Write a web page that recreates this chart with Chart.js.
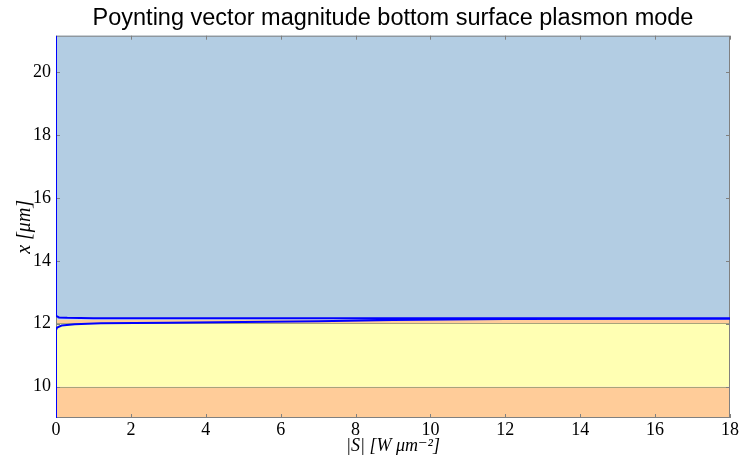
<!DOCTYPE html>
<html>
<head>
<meta charset="utf-8">
<script src="https://cdn.jsdelivr.net/npm/chart.js@4/dist/chart.umd.min.js"></script>
<style>
  html, body { margin: 0; padding: 0; background: #fff; }
  #wrap { width: 743px; height: 467px; }
</style>
</head>
<body>
<div id="wrap"><canvas id="poyntingChart"></canvas></div>
<script>
// |S| along the profile, lower branch out to the peak and back on the upper branch
const sValues = [0, 0, 0.03, 0.15, 0.5, 1.2, 3, 5, 7, 9, 12, 18, 40,
                 40, 18, 5, 1, 0.3, 0.08, 0.02, 0, 0];
const xPositions = [9.0, 11.8, 11.88, 11.94, 11.98, 12.01, 12.03, 12.05, 12.08, 12.12, 12.15, 12.16, 12.165,
                    12.17, 12.17, 12.172, 12.175, 12.185, 12.2, 12.24, 12.3, 21.16];

// material layers (bottom to top)
const layerBounds = [9.0, 10.0, 12.02, 12.13, 21.16];
const layerColors = ['#ffcc99', '#ffffb3', '#ffcc99', '#b3cde3'];

const xTicks = [0, 2, 4, 6, 8, 10, 12, 14, 16, 18];
const yTicks = [10, 12, 14, 16, 18, 20];

const serif = "'Liberation Serif', 'DejaVu Serif', serif";

const layerPlugin = {
  id: 'layers',
  beforeDatasetsDraw(chart) {
    const { ctx, chartArea: a, scales: { x, y } } = chart;
    ctx.save();
    for (let i = 0; i < layerColors.length; i++) {
      const top = y.getPixelForValue(layerBounds[i + 1]);
      const bot = y.getPixelForValue(layerBounds[i]);
      ctx.fillStyle = layerColors[i];
      ctx.fillRect(a.left, top, a.right - a.left, bot - top);
    }
    // interface lines
    ctx.strokeStyle = '#a8a47a';
    ctx.lineWidth = 1;
    [layerBounds[1], layerBounds[2]].forEach(v => {
      const py = Math.round(y.getPixelForValue(v)) + 0.5;
      ctx.beginPath();
      ctx.moveTo(a.left, py);
      ctx.lineTo(a.right, py);
      ctx.stroke();
    });
    // frame and inward ticks
    ctx.strokeStyle = '#808080';
    ctx.strokeRect(a.left + 0.5, a.top + 0.5, a.right - a.left - 1, a.bottom - a.top - 1);
    ctx.beginPath();
    xTicks.forEach(v => {
      const px = Math.round(x.getPixelForValue(v)) + 0.5;
      ctx.moveTo(px, a.bottom); ctx.lineTo(px, a.bottom - 4);
      ctx.moveTo(px, a.top); ctx.lineTo(px, a.top + 4);
    });
    yTicks.forEach(v => {
      const py = Math.round(y.getPixelForValue(v)) + 0.5;
      ctx.moveTo(a.left, py); ctx.lineTo(a.left + 4, py);
      ctx.moveTo(a.right, py); ctx.lineTo(a.right - 4, py);
    });
    ctx.stroke();
    ctx.restore();
  }
};

new Chart(document.getElementById('poyntingChart'), {
  type: 'scatter',
  data: {
    datasets: [{
      data: sValues.map((s, i) => ({ x: s, y: xPositions[i] })),
      showLine: true,
      borderColor: '#0000ff',
      borderWidth: 2,
      pointRadius: 0,
      tension: 0
    }]
  },
  options: {
    responsive: true,
    maintainAspectRatio: false,
    animation: false,
    layout: { padding: { right: 13, bottom: 10, top: 0, left: 13 } },
    plugins: {
      legend: { display: false },
      tooltip: { enabled: false },
      title: {
        display: true,
        fullSize: false,
        text: 'Poynting vector magnitude bottom surface plasmon mode',
        color: '#000',
        font: { family: "'Liberation Sans', Arial, sans-serif", size: 23.5, weight: 'normal' },
        padding: { top: 4.5, bottom: 3 }
      }
    },
    scales: {
      x: {
        type: 'linear',
        min: 0,
        max: 18,
        grid: { display: false, drawTicks: false },
        border: { display: false },
        afterBuildTicks(scale) { scale.ticks = xTicks.map(v => ({ value: v })); },
        afterFit(scale) { scale.height = 39; },
        ticks: { color: '#000', padding: 1, font: { family: serif, size: 18 } },
        title: {
          display: true,
          text: '|S| [W μm⁻²]',
          color: '#000',
          padding: { top: 0, bottom: 0 },
          font: { family: serif, size: 18, style: 'italic' }
        }
      },
      y: {
        type: 'linear',
        min: 9.0,
        max: 21.16,
        grid: { display: false, drawTicks: false },
        border: { display: false },
        afterBuildTicks(scale) { scale.ticks = yTicks.map(v => ({ value: v })); },
        afterFit(scale) { scale.width = 43; },
        ticks: { color: '#000', padding: 5, font: { family: serif, size: 18 } },
        title: {
          display: true,
          text: 'x [μm]',
          color: '#000',
          padding: { top: 0, bottom: 0 },
          font: { family: serif, size: 20, style: 'italic' }
        }
      }
    }
  },
  plugins: [layerPlugin]
});
</script>
</body>
</html>
